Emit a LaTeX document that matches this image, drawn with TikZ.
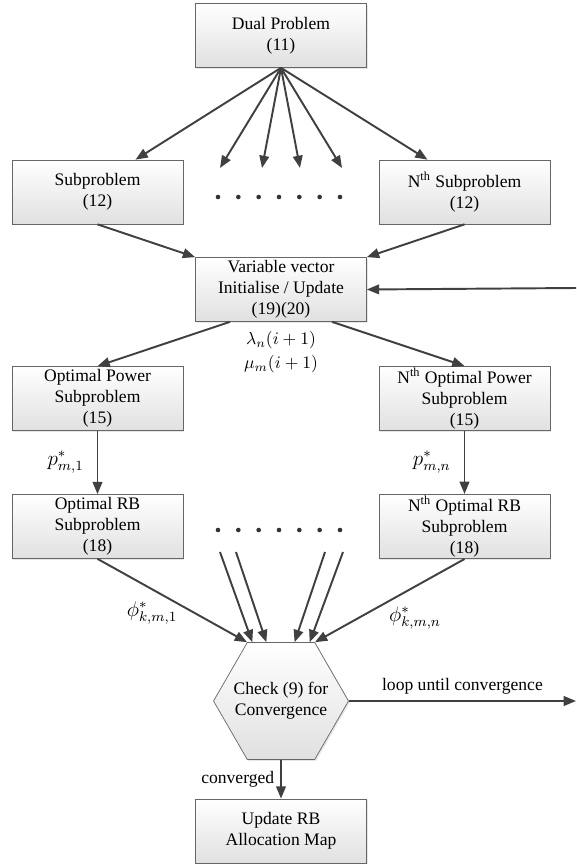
\documentclass[tikz,border=0pt]{standalone}
\usepackage[no-math]{fontspec}
\setmainfont{Liberation Serif}
\usetikzlibrary{arrows.meta,shapes.geometric,calc,shadows}
\tikzset{
  box/.style={draw=black!60, top color=white, bottom color=black!12,
    minimum width=3.42cm, minimum height=1.28cm, inner sep=1pt, align=center,
    drop shadow={opacity=0.2, shadow xshift=0.8pt, shadow yshift=-0.8pt}},
  hexbox/.style={draw=black!60, top color=white, bottom color=black!12,
    regular polygon, regular polygon sides=6, minimum size=2.7cm, inner sep=0pt,
    drop shadow={opacity=0.2, shadow xshift=0.8pt, shadow yshift=-0.8pt}}
}
\begin{document}
\begin{tikzpicture}[x=0.02cm,y=-0.02cm,>={Triangle[length=7pt,width=5.5pt]}]
      \useasboundingbox (0,0) rectangle (576,864);
      \draw
        (281,35.5) node[box] (dual){Dual Problem\\(11)}
        (97.5,192) node[box] (sub1){Subproblem\\(12)}
        (464.5,192) node[box] (subN){N\textsuperscript{th} Subproblem\\(12)}
        (281,289.5) node[box] (var){Variable vector\\Initialise / Update\\(19)(20)}
        (281,340) node (lam){$\lambda_n(i+1)$}
        (281,364) node (mu){$\mu_m(i+1)$}
        (97.5,398.5) node[box] (pow1){Optimal Power\\Subproblem\\(15)}
        (464.5,398.5) node[box] (powN){N\textsuperscript{th} Optimal Power\\Subproblem\\(15)}
        (97.5,526.5) node[box] (rb1){Optimal RB\\Subproblem\\(18)}
        (464.5,526.5) node[box] (rbN){N\textsuperscript{th} Optimal RB\\Subproblem\\(18)}
        (152,613) node (phi1){\large$\phi^*_{k,m,1}$}
        (415,618) node (phiN){\large$\phi^*_{k,m,n}$}
        (281,701) node[hexbox,label={[align=center]center:Check (9) for\\Convergence}] (chk){}
        (281,831) node[box] (upd){Update RB\\Allocation Map};
      \coordinate (d1) at (220,168);
      \coordinate (d2) at (262,168);
      \coordinate (d3) at (300,168);
      \coordinate (d4) at (342,168);
      \coordinate (m1) at (220,552);
      \coordinate (m2) at (236,552);
      \coordinate (m3) at (325,552);
      \coordinate (m4) at (343,552);
      \coordinate (fb) at (576,288);
      \coordinate (lp) at (576,701);
      \foreach \i in {0,...,6} {
        \fill[black!80] (218+\i*20.33,197) circle (2.3);
        \fill[black!80] (218+\i*20.33,530) circle (2.3);
      }
      \begin{scope}[->,draw=black!75,line width=1.1pt]
        \draw (dual.south) to ($(sub1.north)+(38,0)$);
        \draw (dual.south) to (d1);
        \draw (dual.south) to (d2);
        \draw (dual.south) to (d3);
        \draw (dual.south) to (d4);
        \draw (dual.south) to ($(subN.north)+(-37,0)$);
        \draw (sub1.south) to (var.north west);
        \draw (subN.south) to (var.north east);
        \draw (fb) to (var.east);
        \draw ($(var.south)+(-51,0)$) to (pow1.north);
        \draw ($(var.south)+(51,0)$) to (powN.north);
        \draw (pow1) to node[left=4pt]{\large$p^*_{m,1}$} (rb1);
        \draw (powN) to node[left=4pt]{\large$p^*_{m,n}$} (rbN);
        \draw (rb1.south) to (chk.120);
        \draw (m1) to (chk.116);
        \draw (m2) to (chk.104);
        \draw (m3) to (chk.77);
        \draw (m4) to (chk.64);
        \draw (rbN.south) to (chk.60);
        \draw (chk.east) to node[above]{loop until convergence} (lp);
        \draw (chk.south) to node[left]{converged} (upd.north);
      \end{scope}
    \end{tikzpicture}
\end{document}
